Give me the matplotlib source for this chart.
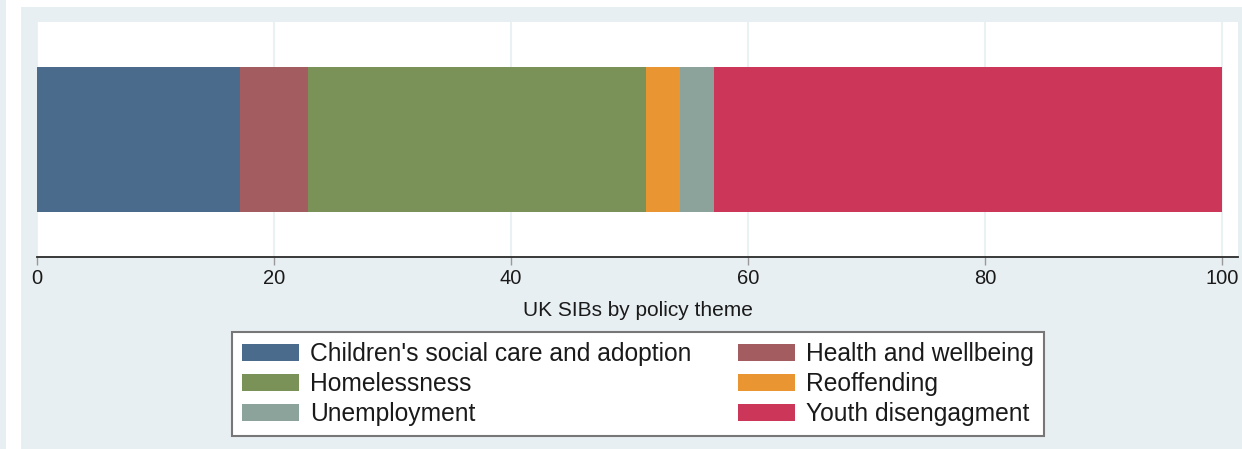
import matplotlib
matplotlib.use("Agg")
import matplotlib.pyplot as plt
from matplotlib.patches import Rectangle

plt.rcParams["font.family"] = ["Liberation Sans", "DejaVu Sans"]

# share of UK SIBs by policy theme (percent, counts out of 35)
themes = [
    "Children's social care and adoption",
    "Health and wellbeing",
    "Homelessness",
    "Reoffending",
    "Unemployment",
    "Youth disengagment",
]
shares = [6 / 35 * 100, 2 / 35 * 100, 10 / 35 * 100, 1 / 35 * 100, 1 / 35 * 100, 15 / 35 * 100]
colors = ["#4a6b8b", "#a35c60", "#7a9257", "#e99632", "#8ba39a", "#cc3759"]
xticks = [0, 20, 40, 60, 80, 100]
xlabel = "UK SIBs by policy theme"

BG = "#e8eff2"
W, H = 1242, 449

fig = plt.figure(figsize=(W / 100, H / 100), dpi=100, facecolor="white")
# stata-like graph region
fig.patches.append(Rectangle((21 / W, 0), 1 - 21 / W, 1 - 7 / H, transform=fig.transFigure,
                             facecolor=BG, edgecolor="none", zorder=-10))
fig.patches.append(Rectangle((0, 0), 6 / W, 1, transform=fig.transFigure,
                             facecolor=BG, edgecolor="none", zorder=-10))

ax = fig.add_axes([37 / W, 1 - 257 / H, (1238 - 37) / W, (257 - 22) / H])
ax.set_facecolor("white")

left = 0
for name, val, col in zip(themes, shares, colors):
    ax.barh(0, val, left=left, height=0.617, color=col, label=name, zorder=2)
    left += val

ax.set_xlim(0, 100 * (1238 - 37) / (1222 - 37))
ax.set_ylim(-0.5, 0.5)
ax.set_yticks([])
ax.set_xticks(xticks)
ax.set_xticklabels([str(t) for t in xticks], fontsize=14.5, color="#1a1a1a")
ax.tick_params(axis="x", direction="out", length=6, width=1, color="#999999", pad=3)
for x in xticks:
    ax.axvline(x, color="#eaf1f3", lw=1.5, zorder=1)

for s in ["top", "right", "left"]:
    ax.spines[s].set_visible(False)
ax.spines["bottom"].set_color("#2a2a2a")
ax.spines["bottom"].set_linewidth(1.3)

ax.set_xlabel(xlabel, fontsize=15, color="#1a1a1a", labelpad=9)

# legend ordered row by row like stata
order = [0, 2, 4, 1, 3, 5]
handles, labels = ax.get_legend_handles_labels()
leg = fig.legend([handles[i] for i in order], [labels[i] for i in order],
                 loc="upper center", bbox_to_anchor=(638 / W, 1 - 332 / H),
                 ncol=2, fontsize=17.7, frameon=True, fancybox=False,
                 edgecolor="#777777", facecolor="white", framealpha=1,
                 handlelength=2.3, handleheight=0.65, handletextpad=0.45,
                 columnspacing=1.9, labelspacing=0.24, borderpad=0.42,
                 borderaxespad=0)
leg.get_frame().set_linewidth(1.5)
for t in leg.get_texts():
    t.set_color("#1a1a1a")

fig.savefig("out.png", dpi=100, facecolor=fig.get_facecolor())
